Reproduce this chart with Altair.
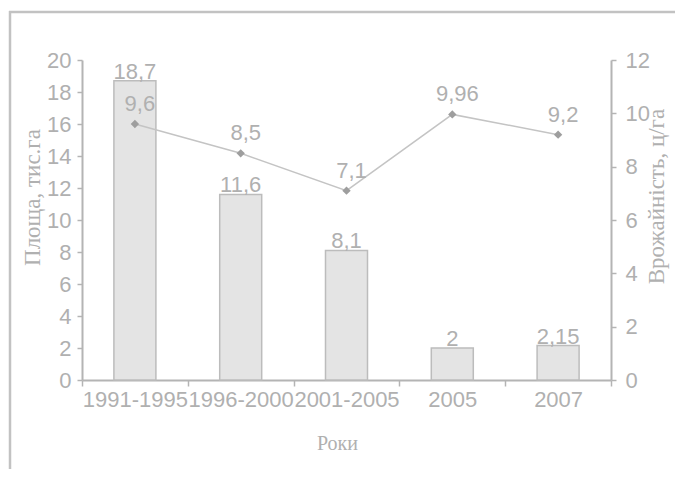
import altair as alt
import pandas as pd

categories = ["1991-1995", "1996-2000", "2001-2005", "2005", "2007"]
area = [18.7, 11.6, 8.1, 2, 2.15]
yields = [9.6, 8.5, 7.1, 9.96, 9.2]

def fmt(v):
    return "{:g}".format(v).replace(".", ",")

df = pd.DataFrame({
    "cat": categories,
    "area": area,
    "yield": yields,
    "area_lbl": [fmt(v) for v in area],
    "yield_lbl": [fmt(v) for v in yields],
})

TXT = "#b0b0b0"
AX = "#b4b4b4"
NUMFONT = "Liberation Sans, Arial, sans-serif"
SERIF = "Liberation Serif, DejaVu Serif, serif"
NS = 22
TS = 23

W, H = 529, 320

xenc = alt.X("cat:N", sort=categories,
             scale=alt.Scale(paddingInner=0, paddingOuter=0),
             axis=alt.Axis(title="Роки", labelAngle=0, tickBand="extent",
                           domainColor=AX, domainWidth=2, tickColor=AX, tickWidth=1.5,
                           tickSize=6, labelPadding=3, labelColor=TXT,
                           labelFont=NUMFONT, labelFontSize=NS,
                           titleFont=SERIF, titleFontSize=20, titleFontWeight="normal",
                           titleColor=TXT, titleX=255, titleY=69,
                           titleBaseline="alphabetic", titleAlign="center"))

yl = alt.Y("area:Q", scale=alt.Scale(domain=[0, 20], nice=False),
           axis=alt.Axis(title="Площа, тис.га", orient="left", values=list(range(0, 21, 2)),
                         domainColor=AX, domainWidth=2, tickColor=AX, tickWidth=1.5,
                         tickSize=5, labelPadding=6, labelColor=TXT,
                         labelFont=NUMFONT, labelFontSize=NS,
                         titleFont=SERIF, titleFontSize=TS, titleFontWeight="normal",
                         titleColor=TXT, titleAngle=270, titleX=-38, titleY=137,
                         titleBaseline="bottom", titleAlign="center"))

yr = alt.Y("yield:Q", scale=alt.Scale(domain=[0, 12], nice=False),
           axis=alt.Axis(title="Врожайність, ц/га", orient="right", values=list(range(0, 13, 2)),
                         domainColor=AX, domainWidth=2, tickColor=AX, tickWidth=1.5,
                         tickSize=5, labelPadding=9, labelColor=TXT,
                         labelFont=NUMFONT, labelFontSize=NS,
                         titleFont=SERIF, titleFontSize=TS, titleFontWeight="normal",
                         titleColor=TXT, titleAngle=270, titleX=57, titleY=136,
                         titleBaseline="bottom", titleAlign="center"))

base = alt.Chart(df)

bars = base.mark_bar(size=42, color="#e4e4e4", stroke="#bcbcbc", strokeWidth=1.5).encode(
    x=xenc, y=yl)
bar_text = base.mark_text(baseline="bottom", dy=3, font=NUMFONT, fontSize=NS, color=TXT).encode(
    x=xenc, y=yl, text="area_lbl:N")

left = alt.layer(bars, bar_text)

line = base.mark_line(color="#c4c4c4", strokeWidth=1.5).encode(x=xenc, y=yr)
pts = base.mark_point(shape="diamond", filled=True, size=70, color="#9e9e9e", opacity=1).encode(
    x=xenc, y=yr)
line_text = base.mark_text(baseline="bottom", dx=5, dy=-8, font=NUMFONT, fontSize=NS, color=TXT).encode(
    x=xenc, y=yr, text="yield_lbl:N")

right = alt.layer(line, pts, line_text)

fr = alt.Chart(pd.DataFrame({"a": [0]}))
frame_top = fr.mark_rule(color="#c2c2c2", strokeWidth=2.5).encode(
    x=alt.value(-73), x2=alt.value(640), y=alt.value(-48))
frame_left = fr.mark_rule(color="#c2c2c2", strokeWidth=2.5).encode(
    x=alt.value(-72), y=alt.value(-49), y2=alt.value(500))

chart = alt.layer(frame_top, frame_left, left, right).resolve_scale(y="independent").properties(
    width=W, height=H,
    autosize=alt.AutoSizeParams(type="none"),
    padding={"left": 74, "top": 52, "right": 64, "bottom": 89},
).configure_view(stroke=None).configure_axis(grid=False)

chart.save("out.html", embed_options={"renderer": "svg", "actions": False})
